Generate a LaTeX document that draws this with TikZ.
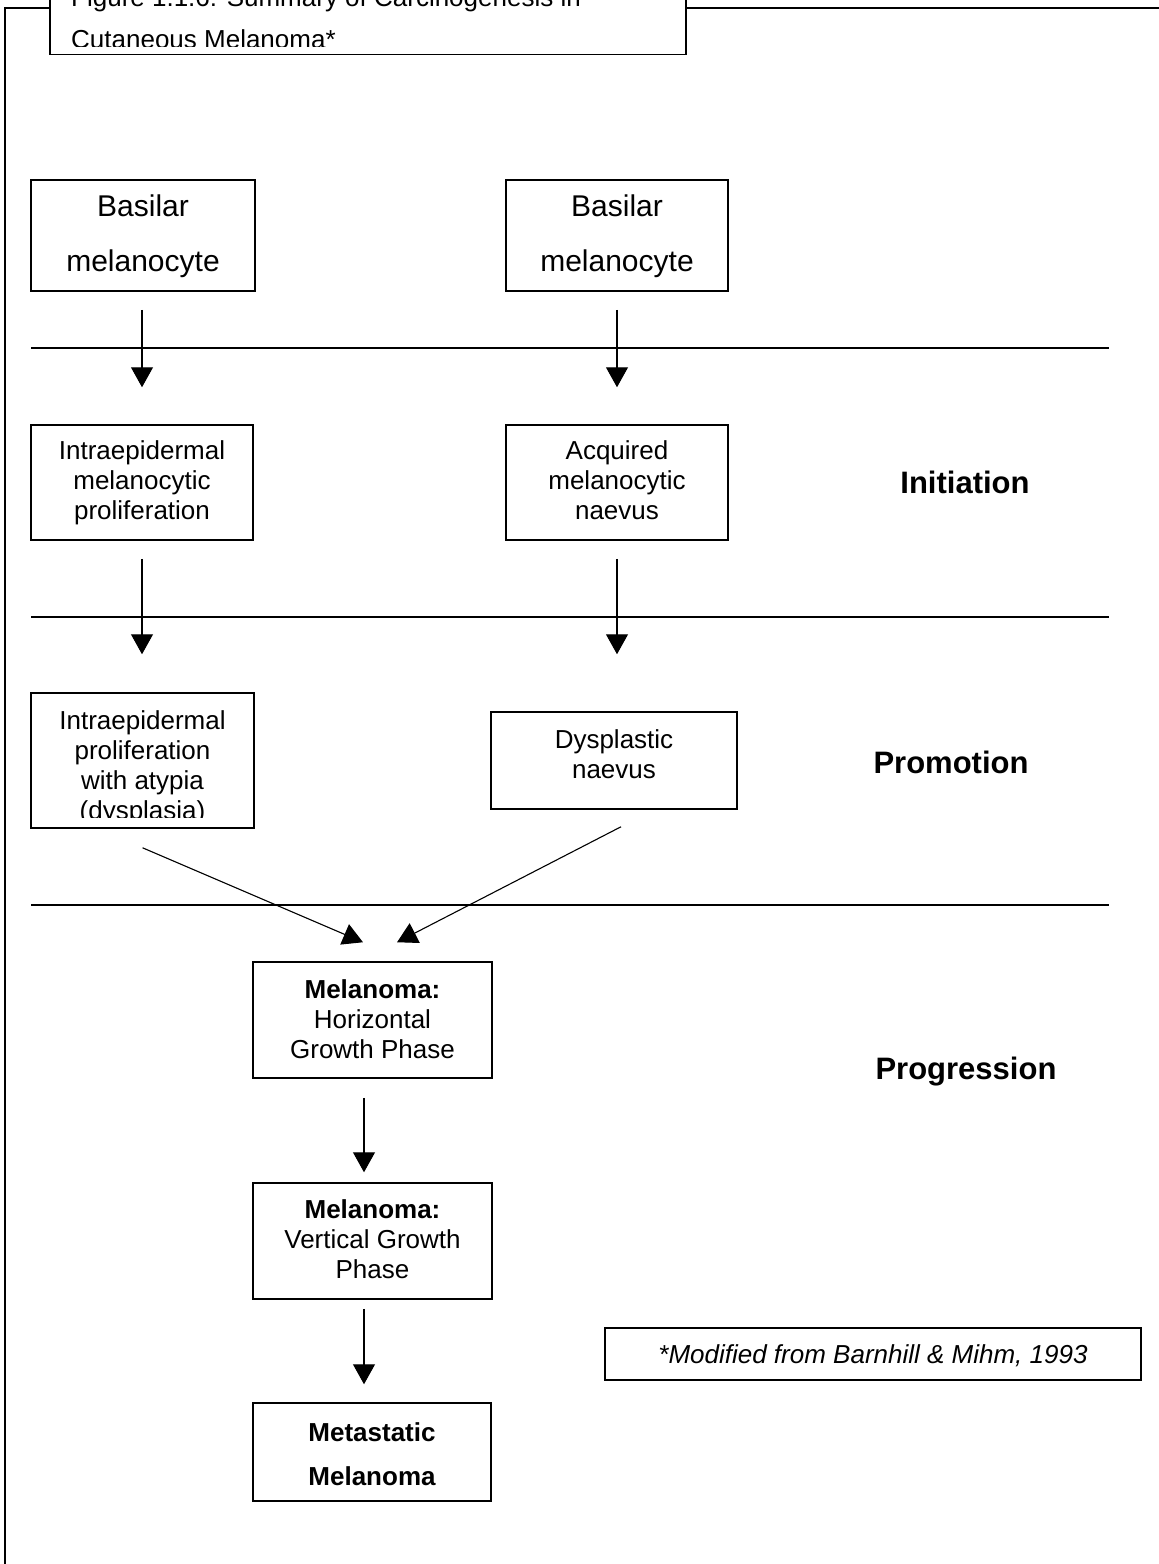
\documentclass[tikz,border=0pt]{standalone}
\usepackage{fontspec}
\setmainfont{Liberation Sans}
\usetikzlibrary{arrows.meta}
\begin{document}
\begin{tikzpicture}[x=1pt,y=-1pt,
  box/.style={draw=black,line width=1.5pt,fill=white,rectangle,inner sep=0pt},
  txt/.style={align=center,inner sep=0pt,anchor=base,font=\fontsize{26}{30}\selectfont},
  bas/.style={txt,font=\fontsize{30}{55}\selectfont},
  stage/.style={inner sep=0pt,anchor=base,font=\fontsize{31}{36}\selectfont\bfseries},
  arr/.style={line width=1.1pt,-{Triangle[width=22pt,length=20pt]}},
  sep/.style={line width=1.5pt}]
\useasboundingbox (0,0) rectangle (1159,1564);
\clip (0,0) rectangle (1159,1564);
\fill[white] (0,0) rectangle (1159,1564);
% outer frame
\draw[line width=1.5pt] (5,1600) -- (5,8) -- (1200,8);
% title box
\node[box,minimum width=636,minimum height=100,anchor=south west] (title) at (49,55) {};
\begin{scope}
  \clip (50,-60) rectangle (684,46.5);
  \node[inner sep=0pt,anchor=base west,align=left,font=\fontsize{26}{42}\selectfont] (ttl) at (71,48)
    {Figure 1.1.6: Summary of Carcinogenesis in\\Cutaneous Melanoma*};
\end{scope}
% row 1
\node[box,minimum width=224,minimum height=111] (b1) at (143,235.5) {};
\node[bas] (b1t) at (143,271) {Basilar\\melanocyte};
\node[box,minimum width=222,minimum height=111] (b2) at (617,235.5) {};
\node[bas] (b2t) at (617,271) {Basilar\\melanocyte};
% separators
\draw[sep] (31,348) -- (1109,348);
\draw[sep] (31,617) -- (1109,617);
\draw[sep] (31,905) -- (1109,905);
% row 2
\node[box,minimum width=222,minimum height=115] (i1) at (142,482.5) {};
\node[txt] (i1t) at (142,519) {Intraepidermal\\melanocytic\\proliferation};
\node[box,minimum width=222,minimum height=115] (i2) at (617,482.5) {};
\node[txt] (i2t) at (617,519) {Acquired\\melanocytic\\naevus};
\node[stage] (init) at (965,493) {Initiation};
% row 3
\node[box,minimum width=223,minimum height=135] (p1) at (142.5,760.5) {};
\begin{scope}
  \clip (33,695) rectangle (252,817);
  \node[txt] (p1t) at (142.5,819) {Intraepidermal\\proliferation\\with atypia\\(dysplasia)};
\end{scope}
\node[box,minimum width=246,minimum height=97] (p2) at (614,760.5) {};
\node[txt] (p2t) at (614,778) {Dysplastic\\naevus};
\node[stage] (promo) at (951,773) {Promotion};
% row 4
\node[box,minimum width=239,minimum height=116] (h) at (372.5,1020) {};
\node[txt] (ht) at (372.5,1058) {\textbf{Melanoma:}\\Horizontal\\Growth Phase};
\node[stage] (prog) at (966,1079) {Progression};
\node[box,minimum width=239,minimum height=116] (v) at (372.5,1241) {};
\node[txt] (vt) at (372.5,1278) {\textbf{Melanoma:}\\Vertical Growth\\Phase};
\node[box,minimum width=238,minimum height=98] (m) at (372,1452) {};
\node[txt,font=\fontsize{26}{44}\selectfont\bfseries] (mt) at (372,1485) {Metastatic\\Melanoma};
\node[box,minimum width=536,minimum height=52] (mod) at (873,1354) {};
\node[txt,font=\fontsize{26}{30}\selectfont\itshape] (modt) at (873,1363) {*Modified from Barnhill \& Mihm, 1993};
% arrows
\draw[arr] ([xshift=-1pt,yshift=-18pt]b1.south) -- ([yshift=37pt]i1.north);
\draw[arr] ([yshift=-18pt]b2.south) -- ([yshift=37pt]i2.north);
\draw[arr] ([yshift=-18pt]i1.south) -- ([xshift=-0.5pt,yshift=38pt]p1.north);
\draw[arr] ([yshift=-18pt]i2.south) -- ([xshift=3pt,yshift=57pt]p2.north);
\draw[arr] ([yshift=-19pt]p1.south) -- ([xshift=-9.5pt,yshift=19pt]h.north);
\draw[arr] ([xshift=7pt,yshift=-17pt]p2.south) -- ([xshift=24.5pt,yshift=19pt]h.north);
\draw[arr] ([xshift=-8.5pt,yshift=-19pt]h.south) -- ([xshift=-8.5pt,yshift=10pt]v.north);
\draw[arr] ([xshift=-8.5pt,yshift=-9pt]v.south) -- ([xshift=-8pt,yshift=18pt]m.north);
\end{tikzpicture}
\end{document}
